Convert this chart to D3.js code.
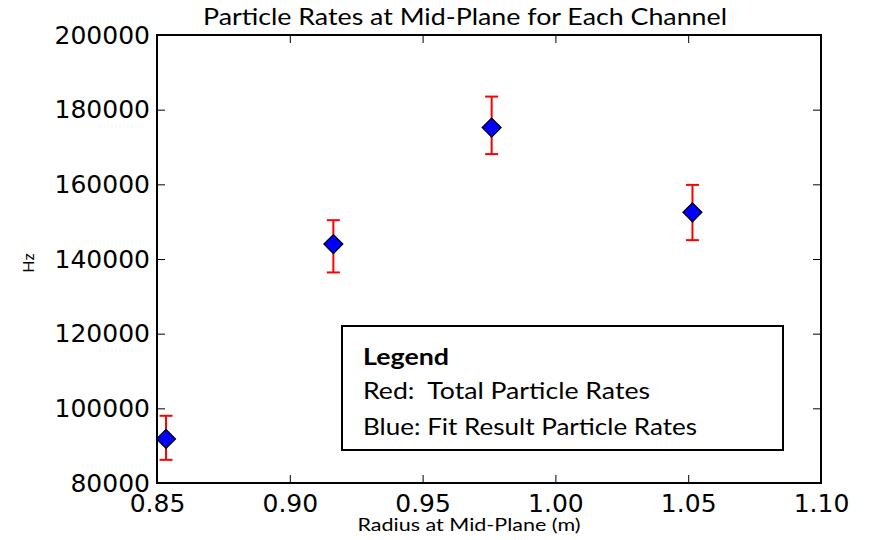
<!DOCTYPE html>
<html>
<head>
<meta charset="utf-8">
<script src="https://cdn.jsdelivr.net/npm/d3@7"></script>
<style>
  html, body { margin: 0; padding: 0; background: #fff; }
  svg { display: block; }
</style>
</head>
<body>
<svg id="chart" width="869" height="540"></svg>
<script>
// Channel radii at the mid-plane (m)
const radius = [0.8534, 0.9164, 0.9760, 1.0516];
// Total particle rates (Hz) and their uncertainties (red error bars)
const totalRates = [92100, 143400, 175800, 152450];
const totalErrors = [5900, 7000, 7700, 7400];
// Fit result particle rates (Hz), blue diamonds
const fitRates = [91800, 144000, 175200, 152500];

const xTicks = [0.85, 0.90, 0.95, 1.00, 1.05, 1.10];
const yTicks = [80000, 100000, 120000, 140000, 160000, 180000, 200000];

const svg = d3.select("#chart");
const plotLeft = 157, plotRight = 821, plotTop = 35, plotBottom = 483;

const x = d3.scaleLinear().domain([0.85, 1.10]).range([plotLeft, plotRight]);
const y = d3.scaleLinear().domain([80000, 200000]).range([plotBottom, plotTop]);

const tickFont = "DejaVu Sans, sans-serif";
const textFont = "Lato, 'Open Sans', sans-serif";

// Inward ticks on all four sides
const axes = [
  { a: d3.axisBottom(x).tickValues(xTicks).tickFormat(d3.format(".2f")), t: `translate(0,${plotBottom})` },
  { a: d3.axisTop(x).tickValues(xTicks).tickFormat(""), t: `translate(0,${plotTop})` },
  { a: d3.axisLeft(y).tickValues(yTicks).tickFormat(d3.format("d")), t: `translate(${plotLeft},0)` },
  { a: d3.axisRight(y).tickValues(yTicks).tickFormat(""), t: `translate(${plotRight},0)` }
];
axes.forEach((ax, i) => {
  const g = svg.append("g").attr("transform", ax.t)
    .call(ax.a.tickSizeInner(-8).tickSizeOuter(0).tickPadding(i === 0 ? 11 : 7));
  g.select(".domain").remove();
  g.selectAll(".tick line").attr("stroke", "#000").attr("stroke-width", 1);
  g.selectAll(".tick text")
    .attr("font-family", tickFont)
    .attr("font-size", 25)
    .attr("fill", "#000");
});

// Plot frame
svg.append("rect")
  .attr("x", plotLeft).attr("y", plotTop)
  .attr("width", plotRight - plotLeft).attr("height", plotBottom - plotTop)
  .attr("fill", "none").attr("stroke", "#000").attr("stroke-width", 2);

// Error bars for total particle rates
const capHalf = 6.5;
const eb = svg.append("g").attr("stroke", "#ff0000").attr("stroke-width", 2).attr("fill", "none");
radius.forEach((r, i) => {
  const cx = x(r), y0 = y(totalRates[i] - totalErrors[i]), y1 = y(totalRates[i] + totalErrors[i]);
  eb.append("line").attr("x1", cx).attr("x2", cx).attr("y1", y0).attr("y2", y1);
  eb.append("line").attr("x1", cx - capHalf).attr("x2", cx + capHalf).attr("y1", y0).attr("y2", y0);
  eb.append("line").attr("x1", cx - capHalf).attr("x2", cx + capHalf).attr("y1", y1).attr("y2", y1);
});

// Fit result markers: diamonds
const diamond = d3.symbol().type(d3.symbolSquare).size(180);
svg.append("g").selectAll("path")
  .data(radius.map((r, i) => [r, fitRates[i]]))
  .join("path")
  .attr("d", diamond)
  .attr("transform", d => `translate(${x(d[0])},${y(d[1])}) rotate(45)`)
  .attr("fill", "#0000ff")
  .attr("stroke", "#000")
  .attr("stroke-width", 1.2);

// Title and axis labels
svg.append("text")
  .attr("x", 465).attr("y", 25)
  .attr("text-anchor", "middle")
  .attr("font-family", textFont).attr("font-size", 23)
  .attr("textLength", 524).attr("lengthAdjust", "spacingAndGlyphs")
  .text("Particle Rates at Mid-Plane for Each Channel");

svg.append("text")
  .attr("x", 469).attr("y", 531)
  .attr("text-anchor", "middle")
  .attr("font-family", textFont).attr("font-size", 17)
  .attr("textLength", 223).attr("lengthAdjust", "spacingAndGlyphs")
  .text("Radius at Mid-Plane (m)");

svg.append("text")
  .attr("transform", "translate(34,263) rotate(-90)")
  .attr("text-anchor", "middle")
  .attr("font-family", textFont).attr("font-size", 16)
  .text("Hz");

// Legend box
const lg = svg.append("g");
lg.append("rect")
  .attr("x", 342).attr("y", 326).attr("width", 441).attr("height", 124)
  .attr("fill", "#fff").attr("stroke", "#000").attr("stroke-width", 2);
const legendLines = [
  { t: "Legend", y: 365, w: 86, bold: true },
  { t: "Red:  Total Particle Rates", y: 399, w: 287, bold: false },
  { t: "Blue: Fit Result Particle Rates", y: 435, w: 334, bold: false }
];
legendLines.forEach(l => {
  lg.append("text")
    .attr("x", 363).attr("y", l.y)
    .attr("font-family", textFont).attr("font-size", 23)
    .attr("font-weight", l.bold ? "bold" : "normal")
    .attr("textLength", l.w).attr("lengthAdjust", "spacingAndGlyphs")
    .style("white-space", "pre")
    .text(l.t);
});
</script>
</body>
</html>
